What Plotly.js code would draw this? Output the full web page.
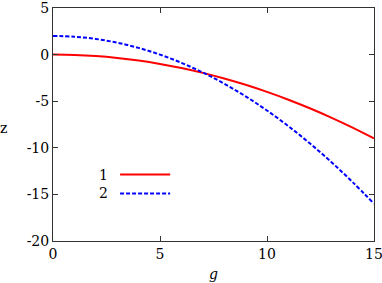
<!DOCTYPE html>
<html>
<head>
<meta charset="utf-8">
<script src="https://cdn.plot.ly/plotly-3.0.1.min.js"></script>
<style>html,body{margin:0;padding:0;background:#fff;}#chart{width:382px;height:283px;}</style>
</head>
<body>
<div id="chart"></div>
<script>
const gValues = [0,1,2,3,4,5,6,7,8,9,10,11,12,13,14,15];
const series1 = [0,-0.04,-0.16,-0.36,-0.64,-1.0,-1.44,-1.96,-2.56,-3.24,-4.0,-4.84,-5.76,-6.76,-7.84,-9.0];
const series2 = [2,1.92,1.68,1.28,0.72,0,-0.88,-1.92,-3.12,-4.48,-6.0,-7.68,-9.52,-11.52,-13.68,-16.0];
const seriesNames = ['1','2'];
const xTicks = [0,5,10,15];
const yTicks = [-20,-15,-10,-5,0,5];

function mkFont() { return {family: 'DejaVu Serif', size: 14, color: '#000'}; }

const traces = [
  {x: gValues, y: series1, mode: 'lines', line: {color: '#ff0000', width: 2, shape: 'spline'}, showlegend: false, hoverinfo: 'skip'},
  {x: gValues, y: series2, mode: 'lines', line: {color: '#0000ff', width: 2, dash: '4px,2px', shape: 'spline'}, showlegend: false, hoverinfo: 'skip'}
];

function axisCommon() {
  return {
    showgrid: false, zeroline: false, showline: true, mirror: 'ticks',
    linecolor: '#333', linewidth: 1, ticks: 'inside', ticklen: 5, tickcolor: '#333',
    tickfont: mkFont(), ticklabeloverflow: 'allow'
  };
}

const layout = {
  width: 382, height: 283,
  margin: {l: 53, r: 8, t: 8, b: 42},
  paper_bgcolor: '#fff', plot_bgcolor: '#fff',
  font: mkFont(),
  xaxis: Object.assign(axisCommon(), {range: [0, 15], tickvals: xTicks, ticktext: xTicks.map(String),
    title: {text: '<i>g</i>', font: mkFont(), standoff: 8}}),
  yaxis: Object.assign(axisCommon(), {range: [-20, 5], tickvals: yTicks, ticktext: yTicks.map(String)}),
  annotations: [
    {xref: 'paper', yref: 'paper', x: -0.17, y: 0.485, text: 'z', showarrow: false, font: mkFont(), xanchor: 'left', yanchor: 'middle'},
    {xref: 'paper', yref: 'paper', x: 0.178, y: 0.285, text: seriesNames[0], showarrow: false, font: mkFont(), xanchor: 'right', yanchor: 'middle'},
    {xref: 'paper', yref: 'paper', x: 0.178, y: 0.204, text: seriesNames[1], showarrow: false, font: mkFont(), xanchor: 'right', yanchor: 'middle'}
  ],
  shapes: [
    {type: 'line', xref: 'paper', yref: 'paper', x0: 0.209, x1: 0.365, y0: 0.285, y1: 0.285, line: {color: '#ff0000', width: 2}},
    {type: 'line', xref: 'paper', yref: 'paper', x0: 0.209, x1: 0.365, y0: 0.204, y1: 0.204, line: {color: '#0000ff', width: 2, dash: '4px,2px'}}
  ]
};

Plotly.newPlot('chart', traces, layout, {staticPlot: true, displayModeBar: false});
</script>
</body>
</html>
